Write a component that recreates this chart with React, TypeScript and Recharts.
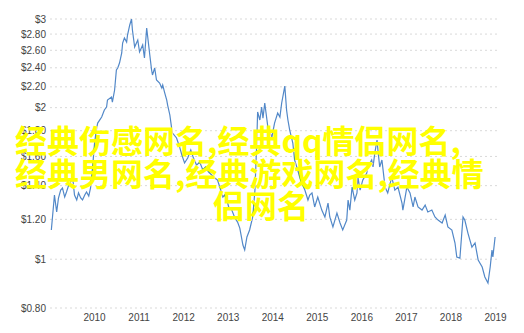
import React from "react";
import { LineChart, Line, XAxis, YAxis, CartesianGrid } from "recharts";

const dates = [
  2009.03, 2009.08, 2009.10, 2009.15, 2009.19, 2009.24, 2009.28, 2009.33, 2009.37, 2009.42,
  2009.46, 2009.51, 2009.55, 2009.60, 2009.64, 2009.69, 2009.73, 2009.78, 2009.82, 2009.87,
  2009.91, 2009.96, 2010.00, 2010.04, 2010.07, 2010.16, 2010.22, 2010.27, 2010.29, 2010.38,
  2010.40, 2010.45, 2010.49, 2010.52, 2010.56, 2010.61, 2010.63, 2010.67, 2010.72, 2010.74,
  2010.79, 2010.83, 2010.85, 2010.90, 2010.97, 2011.01, 2011.08, 2011.12, 2011.17, 2011.24,
  2011.28, 2011.30, 2011.35, 2011.39, 2011.46, 2011.51, 2011.53, 2011.57, 2011.62, 2011.64,
  2011.69, 2011.73, 2011.75, 2011.84, 2011.91, 2011.96, 2012.02, 2012.09, 2012.16, 2012.22,
  2012.29, 2012.36, 2012.43, 2012.49, 2012.56, 2012.63, 2012.70, 2012.76, 2012.81, 2012.88,
  2012.92, 2012.97, 2013.01, 2013.08, 2013.15, 2013.21, 2013.26, 2013.33, 2013.37, 2013.42,
  2013.48, 2013.55, 2013.60, 2013.64, 2013.66, 2013.71, 2013.75, 2013.78, 2013.82, 2013.89,
  2013.93, 2013.98, 2014.04, 2014.11, 2014.16, 2014.20, 2014.27, 2014.31, 2014.34, 2014.38,
  2014.45, 2014.49, 2014.56, 2014.61, 2014.65, 2014.72, 2014.79, 2014.83, 2014.88, 2014.94,
  2015.01, 2015.10, 2015.17, 2015.24, 2015.28, 2015.35, 2015.44, 2015.51, 2015.57, 2015.66,
  2015.69, 2015.73, 2015.78, 2015.84, 2015.89, 2015.91, 2015.96, 2016.02, 2016.11, 2016.13,
  2016.22, 2016.25, 2016.29, 2016.34, 2016.36, 2016.40, 2016.45, 2016.52, 2016.58, 2016.67,
  2016.74, 2016.81, 2016.90, 2016.92, 2017.01, 2017.08, 2017.15, 2017.19, 2017.26, 2017.35,
  2017.42, 2017.48, 2017.57, 2017.64, 2017.71, 2017.80, 2017.87, 2017.93, 2018.02, 2018.09,
  2018.13, 2018.20, 2018.27, 2018.31, 2018.38, 2018.47, 2018.54, 2018.61, 2018.70, 2018.76,
  2018.83, 2018.88, 2018.92, 2018.94, 2018.99,
];

const prices = [
  1.143, 1.281, 1.341, 1.241, 1.323, 1.372, 1.385, 1.329, 1.360, 1.404,
  1.423, 1.450, 1.341, 1.311, 1.354, 1.323, 1.311, 1.341, 1.360, 1.335,
  1.385, 1.538, 1.701, 1.805, 1.864, 1.916, 1.979, 2.006, 2.071, 2.100,
  2.052, 2.168, 2.376, 2.398, 2.453, 2.568, 2.688, 2.750, 2.700, 2.788,
  2.919, 3.000, 2.853, 2.639, 2.725, 2.580, 2.664, 2.510, 2.879, 2.545,
  2.376, 2.322, 2.398, 2.270, 2.238, 2.188, 2.218, 2.148, 2.071, 2.024,
  1.934, 1.822, 1.781, 1.741, 1.670, 1.610, 1.553, 1.588, 1.648, 1.588,
  1.538, 1.560, 1.504, 1.525, 1.490, 1.470, 1.450, 1.436, 1.391, 1.329,
  1.341, 1.311, 1.270, 1.252, 1.207, 1.185, 1.153, 1.067, 1.043, 1.107,
  1.143, 1.213, 1.372, 1.701, 1.961, 1.890, 2.006, 1.907, 2.043, 1.830,
  1.789, 1.749, 1.864, 1.952, 1.916, 2.043, 2.208, 1.979, 1.890, 1.805,
  1.701, 1.574, 1.504, 1.450, 1.417, 1.372, 1.311, 1.341, 1.354, 1.270,
  1.329, 1.252, 1.213, 1.293, 1.213, 1.159, 1.235, 1.180, 1.143, 1.196,
  1.311, 1.252, 1.391, 1.311, 1.354, 1.456, 1.372, 1.436, 1.483, 1.525,
  1.574, 1.525, 1.625, 1.725, 1.648, 1.525, 1.574, 1.391, 1.354, 1.456,
  1.372, 1.391, 1.293, 1.252, 1.391, 1.354, 1.270, 1.329, 1.270, 1.252,
  1.281, 1.241, 1.252, 1.213, 1.196, 1.180, 1.224, 1.159, 1.143, 1.077,
  1.010, 1.005, 1.213, 1.196, 1.127, 1.057, 1.077, 0.996, 0.965, 0.922,
  0.897, 0.965, 1.043, 1.010, 1.107,
];

const yTicks = [0.8, 1, 1.2, 1.4, 1.6, 1.8, 2, 2.2, 2.4, 2.6, 2.8, 3];
const xTicks = [2010, 2011, 2012, 2013, 2014, 2015, 2016, 2017, 2018, 2019];

const titleLines = [
  "经典伤感网名,经典qq情侣网名,",
  "经典男网名,经典游戏网名,经典情",
  "侣网名",
];
const titleLefts = [15, 15, 213];
const titleTops = [123, 156, 188];

const data = dates.map((t, i) => ({ t, p: prices[i] }));

const fmtY = (v: number) =>
  Number.isInteger(v) ? `$${v}` : `$${v.toFixed(2)}`;

export default function App() {
  return (
    <div
      style={{
        position: "absolute",
        left: 0,
        top: 0,
        width: 524,
        height: 333,
        background: "#ffffff",
        overflow: "hidden",
      }}
    >
      <LineChart
        width={524}
        height={333}
        data={data}
        margin={{ top: 19, right: 24, bottom: 5, left: 0 }}
      >
        <CartesianGrid
          horizontal={true}
          vertical={false}
          stroke="#d9d9d9"
          strokeDasharray="2 3"
        />
        <XAxis
          dataKey="t"
          type="number"
          domain={[2009, 2019.1]}
          ticks={xTicks}
          interval={0}
          allowDataOverflow
          axisLine={false}
          tickLine={false}
          tickSize={4}
          tickMargin={2}
          height={20}
          tick={{ fill: "#444", fontSize: 10, fontFamily: "Liberation Sans" }}
        />
        <YAxis
          type="number"
          scale="log"
          domain={[0.8, 3]}
          ticks={yTicks}
          interval={0}
          allowDataOverflow
          axisLine={false}
          tickLine={false}
          tickSize={2}
          tickMargin={2}
          width={50}
          tickFormatter={fmtY}
          tick={{ fill: "#444", fontSize: 10, fontFamily: "Liberation Sans" }}
        />
        <Line
          type="linear"
          dataKey="p"
          stroke="#5288c8"
          strokeWidth={1.2}
          dot={false}
          isAnimationActive={false}
        />
      </LineChart>
      {titleLines.map((line, i) => (
        <div
          key={i}
          style={{
            position: "absolute",
            left: titleLefts[i],
            top: titleTops[i],
            whiteSpace: "nowrap",
            fontFamily: "'Noto Sans CJK SC', 'Noto Sans', sans-serif",
            fontWeight: 700,
            fontSize: 32,
            lineHeight: "32px",
            color: "#ffff00",
          }}
        >
          {line}
        </div>
      ))}
    </div>
  );
}
